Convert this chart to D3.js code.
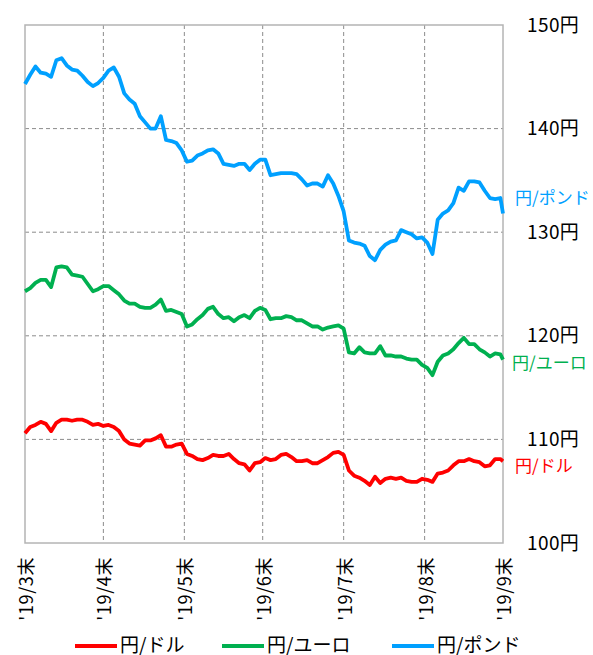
<!DOCTYPE html>
<html>
<head>
<meta charset="utf-8">
<script src="https://cdn.jsdelivr.net/npm/d3@7"></script>
<style>
  body { margin: 0; background: #fff; }
  text { font-family: "Noto Sans CJK JP", "Noto Sans", sans-serif; }
</style>
</head>
<body>
<div id="chart"></div>
<script>
// dates: every 2 days from '19/3末, last point '19/9末
const startDate = new Date(2019, 2, 31);
const endDate = new Date(2019, 8, 30);
const dates = d3.timeDay.range(startDate, endDate, 2).concat([endDate]);

// 円/ドル
const usd = [110.6, 111.2, 111.4, 111.7, 111.5, 110.8, 111.6, 111.9, 111.9, 111.8,
  111.9, 111.9, 111.7, 111.4, 111.5, 111.3, 111.4, 111.2, 110.8, 110.0,
  109.6, 109.5, 109.4, 109.9, 109.9, 110.1, 110.4, 109.3, 109.3, 109.5,
  109.6, 108.6, 108.4, 108.1, 108.0, 108.2, 108.5, 108.4, 108.4, 108.6,
  108.1, 107.7, 107.6, 107.0, 107.7, 107.8, 108.2, 108.0, 108.1, 108.5,
  108.6, 108.3, 107.9, 107.9, 108.0, 107.7, 107.7, 108.0, 108.3, 108.7,
  108.8, 108.5, 107.0, 106.5, 106.3, 106.0, 105.6, 106.4, 105.8, 106.2,
  106.3, 106.2, 106.3, 106.0, 105.9, 105.9, 106.2, 106.1, 105.9, 106.7,
  106.8, 107.0, 107.5, 107.9, 107.9, 108.1, 107.9, 107.8, 107.4, 107.5,
  108.1, 108.1, 107.9];

// 円/ユーロ
const eur = [124.3, 124.6, 125.1, 125.4, 125.4, 124.7, 126.6, 126.7, 126.6, 125.9,
  125.8, 125.7, 125.0, 124.3, 124.5, 124.8, 124.8, 124.4, 124.0, 123.4,
  123.1, 123.1, 122.8, 122.7, 122.7, 123.0, 123.5, 122.4, 122.5, 122.3,
  122.1, 120.9, 121.1, 121.6, 122.0, 122.6, 122.8, 122.1, 121.7, 121.8,
  121.4, 121.8, 122.0, 121.7, 122.4, 122.7, 122.5, 121.6, 121.7, 121.7,
  121.9, 121.8, 121.5, 121.5, 121.2, 120.9, 120.9, 120.6, 120.8, 120.9,
  121.0, 120.7, 118.4, 118.3, 118.9, 118.4, 118.3, 118.3, 119.0, 118.1,
  118.1, 118.0, 118.0, 117.8, 117.7, 117.7, 117.2, 116.9, 116.2, 117.5,
  118.1, 118.3, 118.7, 119.3, 119.8, 119.2, 119.2, 118.7, 118.4, 118.0,
  118.3, 118.2, 117.7];

// 円/ポンド
const gbp = [144.3, 145.2, 146.0, 145.4, 145.3, 145.0, 146.6, 146.8, 146.1, 145.7,
  145.6, 145.1, 144.5, 144.1, 144.4, 144.9, 145.6, 145.9, 145.0, 143.4,
  142.8, 142.4, 141.2, 140.6, 140.0, 140.0, 141.2, 138.9, 138.8, 138.6,
  137.9, 136.8, 136.9, 137.4, 137.6, 137.9, 138.0, 137.6, 136.6, 136.5,
  136.4, 136.6, 136.6, 136.0, 136.6, 137.0, 137.0, 135.5, 135.6, 135.7,
  135.7, 135.7, 135.6, 135.1, 134.5, 134.7, 134.7, 134.4, 135.5, 134.7,
  133.5, 132.0, 129.2, 129.0, 128.9, 128.7, 127.7, 127.3, 128.3, 128.8,
  129.1, 129.2, 130.2, 130.0, 129.8, 129.4, 129.5, 129.0, 127.9, 131.2,
  131.8, 132.1, 132.8, 134.3, 134.0, 134.9, 134.9, 134.8, 134.0, 133.3,
  133.2, 133.3, 131.8];

const seriesNames = ["円/ドル", "円/ユーロ", "円/ポンド"];
const seriesColors = ["#ff0000", "#00b050", "#00a0ff"];
const seriesValues = [usd, eur, gbp];
const labelShift = [3, 2, -17];

const xTickDates = [new Date(2019, 2, 31), new Date(2019, 3, 30), new Date(2019, 4, 31),
  new Date(2019, 5, 30), new Date(2019, 6, 31), new Date(2019, 7, 31), new Date(2019, 8, 30)];
const xTickLabels = ["'19/3末", "'19/4末", "'19/5末", "'19/6末", "'19/7末", "'19/8末", "'19/9末"];
const yTicks = [100, 110, 120, 130, 140, 150];

const width = 593, height = 655;
const plot = { left: 25, right: 503, top: 25, bottom: 543 };

const svg = d3.select("#chart").append("svg")
  .attr("width", width)
  .attr("height", height);

const x = d3.scaleTime()
  .domain([startDate, endDate])
  .range([plot.left, plot.right]);

const y = d3.scaleLinear()
  .domain([100, 150])
  .range([plot.bottom, plot.top]);

// gridlines
svg.append("g")
  .selectAll("line.hgrid")
  .data(yTicks.filter(d => d > 100 && d < 150))
  .enter().append("line")
  .attr("x1", plot.left).attr("x2", plot.right)
  .attr("y1", d => y(d)).attr("y2", d => y(d))
  .attr("stroke", "#8c8c8c")
  .attr("stroke-width", 1)
  .attr("stroke-dasharray", "4,3");

svg.append("g")
  .selectAll("line.vgrid")
  .data(xTickDates.slice(1, -1))
  .enter().append("line")
  .attr("x1", d => x(d)).attr("x2", d => x(d))
  .attr("y1", plot.top).attr("y2", plot.bottom)
  .attr("stroke", "#8c8c8c")
  .attr("stroke-width", 1)
  .attr("stroke-dasharray", "4,3");

// plot frame
svg.append("rect")
  .attr("x", plot.left).attr("y", plot.top)
  .attr("width", plot.right - plot.left)
  .attr("height", plot.bottom - plot.top)
  .attr("fill", "none")
  .attr("stroke", "#b4b4b4")
  .attr("stroke-width", 1.5);

// right axis labels
const yAxis = d3.axisRight(y)
  .tickValues(yTicks)
  .tickSize(0)
  .tickPadding(24)
  .tickFormat(d => d + "円");

svg.append("g")
  .attr("transform", `translate(${plot.right},0)`)
  .call(yAxis)
  .call(g => g.select(".domain").remove())
  .call(g => g.selectAll("text")
    .attr("font-size", 19)
    .attr("letter-spacing", 0.4)
    .attr("fill", "#000")
    .style("font-family", '"Noto Sans CJK JP", sans-serif'));

// x axis labels (rotated)
svg.append("g")
  .selectAll("text")
  .data(xTickDates)
  .enter().append("text")
  .attr("transform", d => `translate(${x(d)},557) rotate(-90)`)
  .attr("text-anchor", "end")
  .attr("dominant-baseline", "central")
  .attr("font-size", 18)
  .attr("letter-spacing", 0.6)
  .attr("fill", "#000")
  .text((d, i) => xTickLabels[i]);

// lines
const line = d3.line()
  .x((d, i) => x(dates[i]))
  .y(d => y(d));

seriesValues.forEach((vals, s) => {
  svg.append("path")
    .datum(vals)
    .attr("fill", "none")
    .attr("stroke", seriesColors[s])
    .attr("stroke-width", 3.8)
    .attr("stroke-linejoin", "round")
    .attr("d", line);

  svg.append("text")
    .attr("x", plot.right + (s === 1 ? 9 : 12))
    .attr("y", y(vals[vals.length - 1]) + labelShift[s])
    .attr("dominant-baseline", "central")
    .attr("font-size", 17)
    .attr("fill", seriesColors[s])
    .text(seriesNames[s]);
});

// legend
const legendX = [75, 222, 392];
const legend = svg.append("g");
seriesNames.forEach((name, s) => {
  legend.append("line")
    .attr("x1", legendX[s]).attr("x2", legendX[s] + 42)
    .attr("y1", 646).attr("y2", 646)
    .attr("stroke", seriesColors[s])
    .attr("stroke-width", 4);
  legend.append("text")
    .attr("x", legendX[s] + 45)
    .attr("y", 643)
    .attr("dominant-baseline", "central")
    .attr("font-size", 19)
    .attr("fill", "#000")
    .text(name);
});
</script>
</body>
</html>
